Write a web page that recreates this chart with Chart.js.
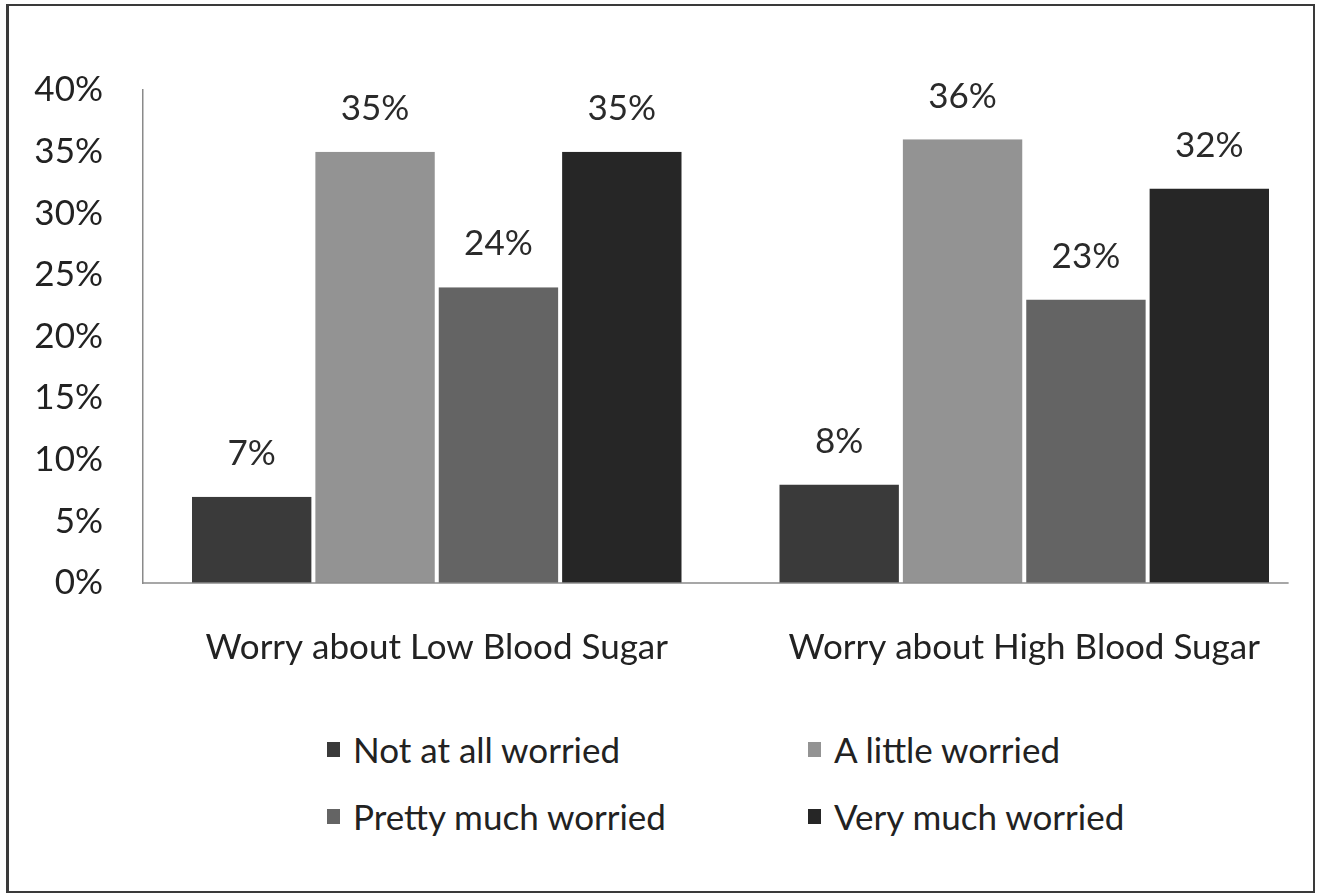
<!DOCTYPE html>
<html>
<head>
<meta charset="utf-8">
<script src="https://cdn.jsdelivr.net/npm/chart.js@4.4.1/dist/chart.umd.min.js"></script>
<style>
  html, body { margin: 0; padding: 0; background: #fff; }
  body { width: 1321px; height: 895px; position: relative; overflow: hidden; font-family: Lato, "Open Sans", sans-serif; }
  #frame { position: absolute; left: 6px; top: 4px; width: 1304px; height: 885px; border: 2px solid #3a3a3a; border-left-width: 3px; box-sizing: content-box; }
  #wrap { position: absolute; left: 0; top: 0; width: 1321px; height: 700px; }
  #legend { position: absolute; left: 327px; top: 728px; display: grid; grid-template-columns: 481px 400px; row-gap: 25px; }
  .item { display: flex; align-items: center; font-size: 35px; color: #222; height: 42px; }
  .box { width: 13px; height: 15px; margin-right: 13px; }
</style>
</head>
<body>
<div id="frame"></div>
<div id="wrap"><canvas id="c"></canvas></div>
<div id="legend"></div>
<script>
const categories = ["Worry about Low Blood Sugar", "Worry about High Blood Sugar"];
const seriesNames = ["Not at all worried", "A little worried", "Pretty much worried", "Very much worried"];
const notAtAll = [7, 8];
const aLittle = [35, 36];
const prettyMuch = [24, 23];
const veryMuch = [35, 32];
const yTicks = [0, 5, 10, 15, 20, 25, 30, 35, 40];
const colors = ["#3a3a3a", "#939393", "#646464", "#262626"];

const seriesValues = [notAtAll, aLittle, prettyMuch, veryMuch];
const FONT = "Lato";
const FS = 35;

const valueLabels = {
  id: "valueLabels",
  afterDatasetsDraw(chart) {
    const ctx = chart.ctx;
    ctx.save();
    ctx.font = FS + "px " + FONT;
    ctx.fillStyle = "#2a2a2a";
    ctx.textAlign = "center";
    ctx.textBaseline = "middle";
    chart.data.datasets.forEach((ds, i) => {
      const meta = chart.getDatasetMeta(i);
      meta.data.forEach((bar, j) => {
        ctx.fillText(ds.data[j] + "%", bar.x, bar.y - 43);
      });
    });
    ctx.restore();
  }
};

// x-axis baseline: from the y axis to just past the last category's bars
const xBaseline = {
  id: "xBaseline",
  afterDatasetsDraw(chart) {
    const x = chart.scales.x, y = chart.scales.y;
    const step = x.getPixelForValue(1) - x.getPixelForValue(0);
    const x1 = x.getPixelForValue(categories.length - 1) + step * 0.45;
    const y0 = y.getPixelForValue(0);
    const ctx = chart.ctx;
    ctx.save();
    ctx.strokeStyle = "#8a8a8a";
    ctx.lineWidth = 1.5;
    ctx.beginPath();
    ctx.moveTo(chart.chartArea.left, y0);
    ctx.lineTo(x1, y0);
    ctx.stroke();
    ctx.restore();
  }
};

const chart = new Chart(document.getElementById("c"), {
  type: "bar",
  data: {
    labels: categories,
    datasets: seriesNames.map((name, i) => ({
      label: name,
      data: seriesValues[i],
      backgroundColor: colors[i],
      borderColor: "#ffffff",
      borderWidth: { left: 2, right: 2, top: 0, bottom: 0 },
      borderSkipped: false,
      categoryPercentage: 0.84,
      barPercentage: 1.0
    }))
  },
  options: {
    responsive: true,
    maintainAspectRatio: false,
    animation: false,
    layout: { padding: { top: 90, right: 3, left: 0, bottom: 0 } },
    plugins: { legend: { display: false }, tooltip: { enabled: false } },
    scales: {
      x: {
        grid: { display: false, drawTicks: false },
        border: { display: false },
        ticks: { font: { family: FONT, size: FS }, color: "#222", padding: 44 },
        afterFit(scale) { scale.height = 117; }
      },
      y: {
        min: 0, max: 40,
        afterBuildTicks(scale) { scale.ticks = yTicks.map(v => ({ value: v })); },
        grid: { display: false, drawTicks: false },
        border: { display: true, color: "#8a8a8a", width: 1.5 },
        ticks: { font: { family: FONT, size: FS }, color: "#222", padding: 40, callback: v => v + "%" },
        afterFit(scale) { scale.width = 143; }
      }
    }
  },
  plugins: [valueLabels, xBaseline]
});

const legend = document.getElementById("legend");
chart.data.datasets.forEach(ds => {
  const item = document.createElement("div");
  item.className = "item";
  const box = document.createElement("span");
  box.className = "box";
  box.style.background = ds.backgroundColor;
  const txt = document.createElement("span");
  txt.textContent = ds.label;
  item.appendChild(box);
  item.appendChild(txt);
  legend.appendChild(item);
});
</script>
</body>
</html>
